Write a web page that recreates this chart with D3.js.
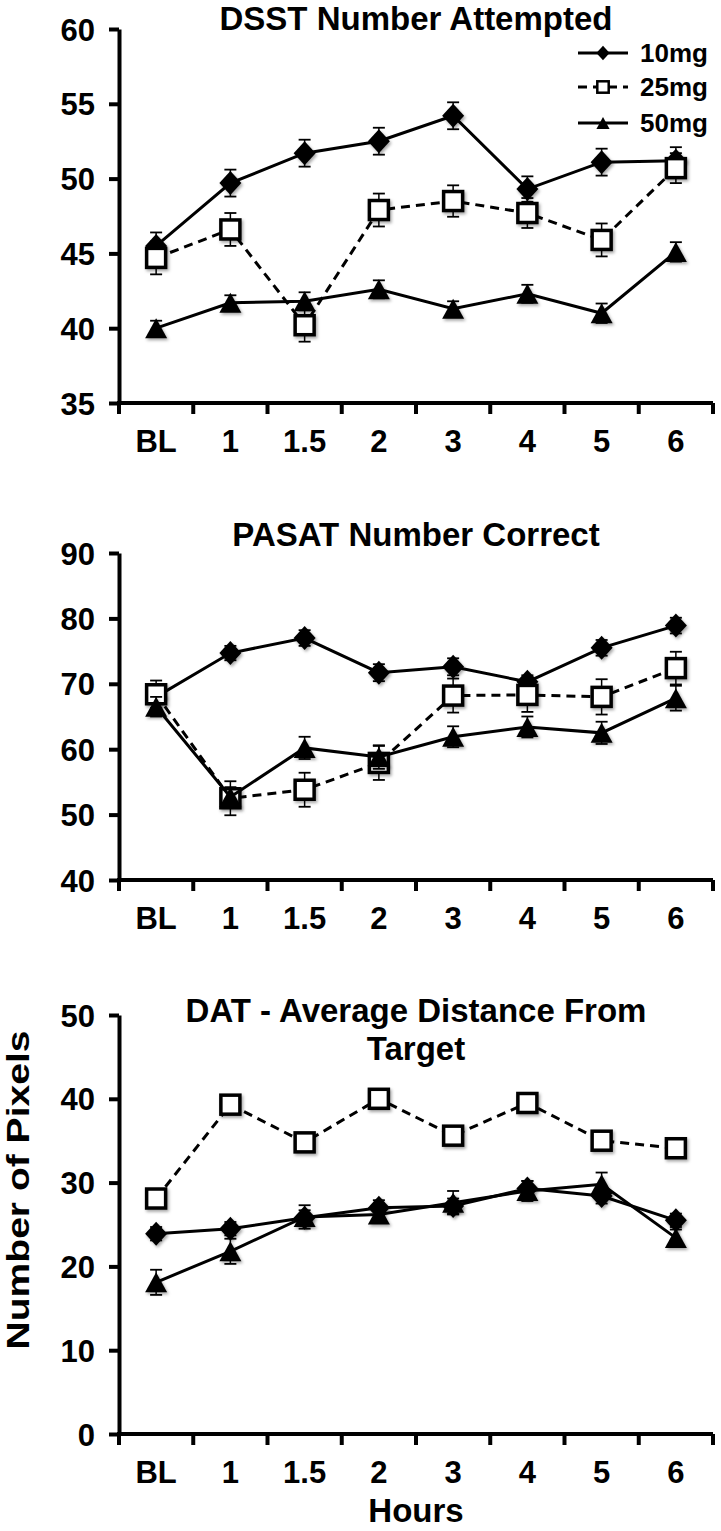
<!DOCTYPE html>
<html>
<head>
<meta charset="utf-8">
<script src="https://cdn.jsdelivr.net/npm/d3@7"></script>
<style>
  html, body { margin: 0; padding: 0; background: #fff; }
  svg { display: block; font-family: "Liberation Sans", Arial, Helvetica, sans-serif; font-weight: bold; }
</style>
</head>
<body>
<svg id="chart" width="721" height="1531"></svg>
<script>
// ---------- data ----------
const hours = ["BL", "1", "1.5", "2", "3", "4", "5", "6"];
const doses = ["10mg", "25mg", "50mg"];

const dsst10 = [45.5, 49.7, 51.7, 52.5, 54.2, 49.3, 51.1, 51.2];
const dsst10Err = [0.9, 0.9, 0.9, 0.9, 0.9, 0.85, 0.9, 0.9];
const dsst25 = [44.7, 46.6, 40.2, 47.9, 48.5, 47.7, 45.9, 50.7];
const dsst25Err = [1.1, 1.1, 1.1, 1.1, 1.05, 1.0, 1.1, 1.0];
const dsst50 = [40.0, 41.7, 41.8, 42.6, 41.3, 42.3, 41.0, 45.1];
const dsst50Err = [0.5, 0.5, 0.6, 0.6, 0.5, 0.6, 0.65, 0.65];

const pasat10 = [68.0, 74.7, 77.0, 71.7, 72.6, 70.3, 75.5, 78.9];
const pasat10Err = [1.0, 1.1, 1.2, 1.3, 1.3, 1.0, 1.2, 1.2];
const pasat25 = [68.4, 52.5, 53.8, 57.9, 68.2, 68.3, 68.0, 72.4];
const pasat25Err = [2.1, 2.6, 2.6, 2.6, 2.6, 2.6, 2.7, 2.5];
const pasat50 = [66.5, 52.7, 60.2, 58.8, 61.9, 63.4, 62.5, 67.8];
const pasat50Err = [1.5, 1.5, 1.7, 1.8, 1.6, 1.6, 1.7, 1.9];

const dat10 = [23.9, 24.5, 25.8, 27.0, 27.2, 29.3, 28.4, 25.5];
const dat10Err = [0.8, 0.8, 0.9, 0.9, 0.9, 0.9, 0.9, 0.8];
const dat25 = [28.1, 39.3, 34.8, 40.0, 35.6, 39.5, 35.0, 34.1];
const dat25Err = [0.8, 0.8, 0.8, 0.8, 0.8, 0.8, 0.8, 0.8];
const dat50 = [18.1, 21.8, 25.9, 26.2, 27.6, 29.0, 29.8, 23.4];
const dat50Err = [1.5, 1.5, 1.4, 1.0, 1.4, 1.2, 1.4, 1.0];

const dsstTicks = [35, 40, 45, 50, 55, 60];
const pasatTicks = [40, 50, 60, 70, 80, 90];
const datTicks = [0, 10, 20, 30, 40, 50];

// ---------- drawing ----------
const svg = d3.select("#chart");
const defs = svg.append("defs");
const f = defs.append("filter").attr("id", "shadow")
  .attr("x", "-50%").attr("y", "-50%").attr("width", "200%").attr("height", "200%");
f.append("feDropShadow").attr("dx", 1.5).attr("dy", 2).attr("stdDeviation", 1.5)
  .attr("flood-color", "#000").attr("flood-opacity", 0.35);

const X0 = 119, X1 = 713;
const x = d3.scaleBand().domain(hours).range([X0, X1]).padding(0);

function markerPath(type, cx, cy, s) {
  if (type === "diamond") {
    const w = 11 * s, h = 12 * s;
    return `M${cx},${cy - h}L${cx + w},${cy}L${cx},${cy + h}L${cx - w},${cy}Z`;
  }
  if (type === "triangle") {
    const w = 11 * s, h = 10 * s;
    return `M${cx},${cy - h}L${cx + w},${cy + h}L${cx - w},${cy + h}Z`;
  }
  return null;
}

function drawMarker(g, type, cx, cy, s, shadow) {
  let el;
  if (type === "square") {
    const a = 9.5 * s;
    el = g.append("rect").attr("x", cx - a).attr("y", cy - a)
      .attr("width", 2 * a).attr("height", 2 * a)
      .attr("fill", "#fff").attr("stroke", "#000").attr("stroke-width", s > 0.8 ? 3.5 : 2.5);
  } else {
    el = g.append("path").attr("d", markerPath(type, cx, cy, s)).attr("fill", "#000");
  }
  if (shadow) el.attr("filter", "url(#shadow)");
  return el;
}

function panel(opts) {
  const y = d3.scaleLinear().domain(opts.domain).range([opts.bottom, opts.top]);
  const g = svg.append("g");

  // title
  opts.title.forEach((t, i) => {
    g.append("text").attr("x", (X0 + X1) / 2).attr("y", opts.titleY + i * 38)
      .attr("text-anchor", "middle").attr("font-size", 33).text(t);
  });

  // y axis
  const ya = g.append("g").attr("transform", `translate(${X0},0)`)
    .call(d3.axisLeft(y).tickValues(opts.ticks).tickSize(10).tickSizeOuter(0).tickPadding(14)
      .tickFormat(d3.format("d")));
  ya.select(".domain").attr("stroke-width", 4).attr("stroke", "#000");
  ya.selectAll(".tick line").attr("stroke-width", 4).attr("stroke", "#000");
  ya.selectAll(".tick text").attr("font-size", 31).attr("font-family", null).attr("fill", "#000")
    .attr("dy", "0.36em");

  // x axis (labels at band centers, ticks at band boundaries)
  const xa = g.append("g").attr("transform", `translate(0,${opts.bottom})`)
    .call(d3.axisBottom(x).tickSize(0).tickSizeOuter(0).tickPadding(27));
  xa.select(".domain").attr("stroke-width", 4).attr("stroke", "#000")
    .attr("d", `M${X0 - 2},0H${X1}`);
  xa.selectAll(".tick text").attr("font-size", 31).attr("font-family", null).attr("fill", "#000")
    .attr("dy", "0.71em");
  const bounds = hours.map(h => x(h)).concat([x(hours[hours.length - 1]) + x.bandwidth()]);
  xa.selectAll(".bt").data(bounds).enter().append("line").attr("class", "bt")
    .attr("x1", d => d).attr("x2", d => d).attr("y1", 0).attr("y2", 11)
    .attr("stroke", "#000").attr("stroke-width", 4);

  const cx = h => x(h) + x.bandwidth() / 2;
  const line = d3.line().x((d, i) => cx(hours[i])).y(d => y(d));

  opts.series.forEach(s => {
    const sg = g.append("g");
    // error bars
    s.values.forEach((v, i) => {
      const px = cx(hours[i]);
      const y1 = y(v + s.err[i]), y2 = y(v - s.err[i]);
      sg.append("line").attr("x1", px).attr("x2", px).attr("y1", y1).attr("y2", y2)
        .attr("stroke", "#000").attr("stroke-width", 1.5);
      [y1, y2].forEach(yy => sg.append("line").attr("x1", px - 6).attr("x2", px + 6)
        .attr("y1", yy).attr("y2", yy).attr("stroke", "#000").attr("stroke-width", 1.8));
    });
    sg.append("path").attr("d", line(s.values)).attr("fill", "none").attr("stroke", "#000")
      .attr("stroke-width", 3).attr("stroke-dasharray", s.dash ? "9,6" : null);
    s.values.forEach((v, i) => drawMarker(sg, s.type, cx(hours[i]), y(v), 1, true));
  });
  return g;
}

panel({
  title: ["DSST Number Attempted"], titleY: 30,
  domain: [35, 60], top: 29, bottom: 403, ticks: dsstTicks,
  series: [
    { values: dsst10, err: dsst10Err, type: "diamond" },
    { values: dsst25, err: dsst25Err, type: "square", dash: true },
    { values: dsst50, err: dsst50Err, type: "triangle" }
  ]
});

panel({
  title: ["PASAT Number Correct"], titleY: 546,
  domain: [40, 90], top: 553, bottom: 880, ticks: pasatTicks,
  series: [
    { values: pasat10, err: pasat10Err, type: "diamond" },
    { values: pasat25, err: pasat25Err, type: "square", dash: true },
    { values: pasat50, err: pasat50Err, type: "triangle" }
  ]
});

panel({
  title: ["DAT - Average Distance From", "Target"], titleY: 1022,
  domain: [0, 50], top: 1015, bottom: 1434, ticks: datTicks,
  series: [
    { values: dat10, err: dat10Err, type: "diamond" },
    { values: dat25, err: dat25Err, type: "square", dash: true },
    { values: dat50, err: dat50Err, type: "triangle" }
  ]
});

// axis titles
svg.append("text").attr("transform", "translate(29,1190) rotate(-90) scale(1.26,1)")
  .attr("text-anchor", "middle").attr("font-size", 31).text("Number of Pixels");
svg.append("text").attr("x", (X0 + X1) / 2).attr("y", 1522)
  .attr("text-anchor", "middle").attr("font-size", 33).text("Hours");

// legend
const legTypes = ["diamond", "square", "triangle"];
const legY = [53, 87, 123];
const lg = svg.append("g");
doses.forEach((d, i) => {
  lg.append("line").attr("x1", 578).attr("x2", 628).attr("y1", legY[i]).attr("y2", legY[i])
    .attr("stroke", "#000").attr("stroke-width", 3)
    .attr("stroke-dasharray", legTypes[i] === "square" ? "9,6" : null);
  drawMarker(lg, legTypes[i], 603, legY[i], 0.6, false);
  lg.append("text").attr("x", 640).attr("y", legY[i]).attr("dy", "0.36em")
    .attr("font-size", 26).text(d);
});
</script>
</body>
</html>
